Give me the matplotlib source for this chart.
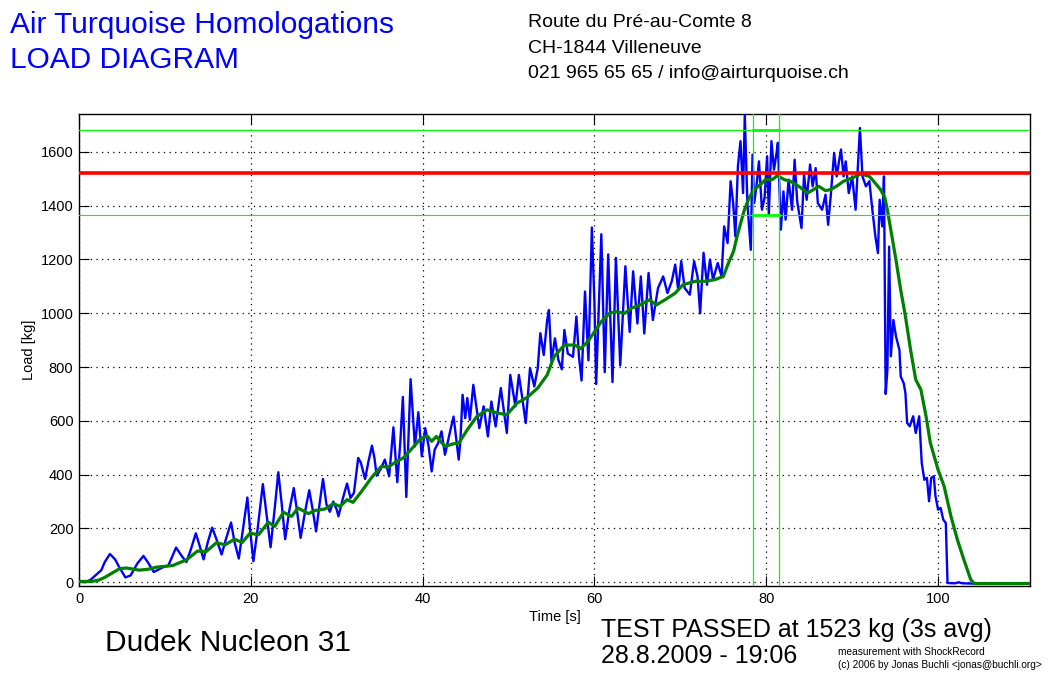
import matplotlib
matplotlib.use("Agg")
import matplotlib.pyplot as plt

plt.rcParams['font.family'] = ['Liberation Sans', 'DejaVu Sans']

# raw load signal [s], [kg]
load_time = [0.0, 0.7, 1.3, 2.0, 2.6, 3.0, 3.6, 4.2, 4.7, 5.4, 6.0, 6.8, 7.5, 8.1, 8.7, 9.3,
             9.8, 10.4, 11.3, 11.9, 12.5, 13.0, 13.6, 14.0, 14.5, 15.0, 15.5, 16.0, 16.6, 17.1,
             17.7, 18.1, 18.6, 19.1, 19.6, 19.9, 20.3, 20.8, 21.4, 21.8, 22.3, 22.8, 23.2, 23.6,
             24.0, 24.5, 25.0, 25.4, 25.8, 26.3, 26.8, 27.2, 27.6, 28.0, 28.4, 28.8, 29.2, 29.6,
             30.0, 30.2, 30.7, 31.2, 31.6, 32.0, 32.5, 32.8, 33.3, 33.7, 34.1, 34.4, 34.65, 35.1,
             35.6, 36.1, 36.6, 37.05, 37.4, 37.7, 38.1, 38.6, 39.1, 39.5, 39.9, 40.3, 40.7, 41.05,
             41.4, 41.8, 42.2, 42.6, 43.2, 43.6, 44.2, 44.4, 44.65, 44.96, 45.2, 45.5, 45.9, 46.25,
             46.6, 47.1, 47.6, 48.0, 48.5, 49.1, 49.8, 50.2, 50.8, 51.2, 51.6, 52.0, 52.5, 53.0,
             53.4, 53.7, 54.1, 54.5, 54.7, 55.0, 55.4, 55.8, 56.2, 56.5, 56.9, 57.5, 57.9, 58.2,
             58.5, 58.9, 59.3, 59.7, 60.0, 60.2, 60.8, 61.2, 61.6, 62.1, 62.5, 63.0, 63.6, 64.1,
             64.5, 65.0, 65.4, 65.8, 66.3, 66.8, 67.4, 68.0, 68.5, 69.0, 69.4, 69.75, 70.1, 70.5,
             71.1, 71.6, 72.0, 72.3, 72.7, 73.1, 73.45, 73.8, 74.35, 74.8, 75.1, 75.5, 75.85, 76.15,
             76.4, 76.7, 77.0, 77.3, 77.5, 77.8, 78.2, 78.4, 78.6, 78.9, 79.15, 79.5, 79.8, 80.1,
             80.3, 80.6, 80.9, 81.2, 81.35, 81.7, 82.0, 82.25, 82.6, 83.0, 83.3, 83.6, 84.1, 84.4,
             84.7, 85.1, 85.4, 85.75, 86.0, 86.5, 86.9, 87.2, 87.5, 87.9, 88.2, 88.5, 88.7, 89.0,
             89.25, 89.6, 90.0, 90.4, 90.6, 90.9, 91.2, 91.6, 92.0, 92.35, 92.7, 93.0, 93.2, 93.5,
             93.7, 93.9, 94.1, 94.3, 94.5, 94.8, 95.1, 95.5, 95.65, 96.0, 96.2, 96.4, 96.7, 97.1,
             97.4, 97.8, 98.1, 98.4, 98.7, 98.95, 99.2, 99.5, 99.7, 100.0, 100.3, 100.6, 100.9,
             101.1, 102.0, 102.4, 102.8, 104.0, 110.7]
load_kg = [2, 0, 8, 28, 45, 75, 105, 85, 55, 18, 25, 70, 98, 70, 38, 48,
           56, 62, 129, 100, 75, 120, 182, 140, 85, 150, 203, 160, 103, 160,
           222, 150, 88, 200, 315, 200, 78, 200, 365, 260, 130, 280, 409, 290,
           160, 270, 350, 260, 165, 260, 342, 270, 189, 290, 384, 290, 262, 300,
           270, 245, 310, 367, 313, 332, 462, 445, 384, 450, 508, 460, 396, 420,
           456, 394, 576, 372, 520, 689, 317, 755, 505, 632, 468, 573, 505, 412,
           493, 517, 561, 474, 561, 616, 456, 530, 697, 610, 685, 604, 734, 654,
           573, 654, 542, 672, 579, 722, 555, 771, 654, 771, 685, 592, 796, 728,
           796, 926, 845, 975, 1012, 821, 907, 827, 792, 938, 850, 838, 988, 838,
           750, 1081, 825, 1319, 1037, 737, 1294, 781, 1219, 744, 1206, 806, 1175, 931,
           1156, 962, 1137, 925, 1150, 975, 1094, 1137, 1075, 1119, 1181, 1087, 1194, 1094,
           1069, 1194, 1137, 1000, 1225, 1106, 1200, 1125, 1187, 1137, 1323, 1261, 1491, 1410,
           1286, 1547, 1640, 1447, 1739, 1410, 1236, 1590, 1410, 1484, 1565, 1385, 1429, 1584,
           1366, 1640, 1534, 1596, 1634, 1311, 1453, 1348, 1497, 1385, 1571, 1416, 1317, 1516,
           1422, 1553, 1472, 1540, 1410, 1385, 1441, 1329, 1435, 1596, 1509, 1571, 1609, 1509,
           1565, 1447, 1509, 1385, 1509, 1689, 1509, 1472, 1491, 1385, 1286, 1224, 1422, 1323,
           1509, 700, 790, 1248, 840, 975, 914, 864, 765, 740, 703, 592, 580, 617,
           555, 617, 443, 381, 388, 301, 388, 394, 320, 270, 276, 233, 220,
           -3, -4, 0, -4, -5, -5]

# 3 s moving average
avg_time = [0, 1.5, 2.3, 3.0, 3.7, 4.7, 5.5, 7.0, 8.0, 9.0, 10.9, 12.5, 13.8, 14.8, 16.0, 17.0,
            18.1, 19.0, 19.9, 20.9, 22.05, 22.8, 23.8, 24.75, 25.5, 26.7, 27.5, 28.6, 29.6, 30.4,
            31.2, 31.9, 32.9, 34.1, 35.2, 36.0, 37.0, 37.75, 38.7, 39.7, 40.5, 41.05, 41.6, 42.6,
            43.6, 44.2, 45.2, 46.3, 47.5, 48.7, 49.8, 51.0, 52.2, 53.4, 54.5, 55.3, 56.5, 57.7,
            58.4, 59.2, 60.0, 60.8, 61.75, 62.5, 63.5, 64.3, 65.3, 66.4, 67.2, 68.2, 69.4, 70.3,
            71.7, 72.9, 74.0, 75.0, 75.6, 76.2, 76.6, 77.4, 78.0, 78.6, 79.3, 79.9, 80.7, 81.3,
            82.1, 82.8, 83.8, 84.8, 85.5, 86.1, 86.9, 87.5, 88.3, 89.0, 90.0, 91.0, 92.0, 92.5,
            93.3, 93.8, 94.1, 94.5, 95.1, 95.65, 96.2, 96.8, 97.4, 98.0, 98.6, 99.1, 100.0, 100.7,
            101.5, 102.25, 103.0, 103.8, 104.2, 110.7]
avg_kg = [3, 3, 8, 18, 31, 50, 53, 45, 48, 56, 62, 83, 116, 114, 147, 139,
          160, 148, 182, 177, 223, 208, 260, 245, 276, 255, 267, 272, 292, 282,
          307, 297, 338, 391, 431, 428, 450, 462, 495, 532, 545, 524, 542, 505,
          515, 517, 567, 616, 641, 629, 623, 666, 688, 722, 771, 839, 882, 882,
          869, 894, 931, 969, 1000, 1006, 1000, 1019, 1031, 1050, 1031, 1050, 1075, 1106,
          1119, 1119, 1125, 1137, 1187, 1231, 1286, 1379, 1429, 1460, 1478, 1497, 1497, 1512,
          1497, 1491, 1472, 1447, 1460, 1472, 1456, 1460, 1475, 1491, 1503, 1518, 1509, 1491,
          1460, 1430, 1384, 1310, 1198, 1087, 988, 864, 753, 716, 617, 518, 418, 357,
          245, 158, 84, 10, -5, -5]

max_avg = 1523
band_hi = 1682
band_lo = 1365
win_start = 78.5
win_end = 81.5

fig = plt.figure(figsize=(10.55, 6.74), dpi=100)
ax = fig.add_axes([79/1055, 88/674, 951/1055, 472/674])

ax.plot(load_time, load_kg, color='#0000ff', lw=1.7, zorder=3)
ax.plot(avg_time, avg_kg, color='#008000', lw=2.3, zorder=4)
ax.axhline(band_hi, color='#00ff00', lw=0.8, zorder=5)
ax.axhline(band_lo, color='#00ff00', lw=0.8, zorder=5)
ax.axvline(win_start, color='#00ff00', lw=0.9, zorder=5)
ax.axvline(win_end, color='#00ff00', lw=0.9, zorder=5)
ax.plot([win_start, win_end], [band_hi, band_hi], color='#00ff00', lw=2, zorder=5)
ax.plot([win_start, win_end], [band_lo, band_lo], color='#00ff00', lw=2, zorder=5)
ax.axhline(max_avg, color='#ff0000', lw=2.6, zorder=6)

ax.set_xlim(0, 110.7)
ax.set_ylim(-14, 1741)
ax.set_xticks(range(0, 101, 20))
ax.set_yticks(range(0, 1601, 200))
ax.grid(True, color='black', linestyle=(0, (1, 3.5)), lw=0.9)
ax.tick_params(direction='in', length=7, width=0.8, top=True, right=True,
               labelsize=10.5, pad=4)
for s in ax.spines.values():
    s.set_linewidth(1.0)
ax.set_xlabel('Time [s]', fontsize=10.5, labelpad=3)
ax.set_ylabel('Load [kg]', fontsize=10.5, labelpad=3)

W, H = 1055, 674
def put(x, y, s, **kw):
    fig.text(x / W, 1 - y / H, s, va='baseline', ha='left', **kw)

put(10, 33, 'Air Turquoise Homologations', color='#0000ff', fontsize=21.5)
put(10, 68, 'LOAD DIAGRAM', color='#0000ff', fontsize=21.5)
put(528, 27, 'Route du Pré-au-Comte 8', fontsize=14)
put(528, 53, 'CH-1844 Villeneuve', fontsize=14)
put(528, 78, '021 965 65 65 / info@airturquoise.ch', fontsize=14)
put(105, 651, 'Dudek Nucleon 31', fontsize=21.5)
put(601, 637, 'TEST PASSED at 1523 kg (3s avg)', fontsize=18)
put(601, 663, '28.8.2009 - 19:06', fontsize=18)
put(838, 655, 'measurement with ShockRecord', fontsize=7.3)
put(838, 668, '(c) 2006 by Jonas Buchli <jonas@buchli.org>', fontsize=7.3)

fig.savefig('out.png', dpi=100)
